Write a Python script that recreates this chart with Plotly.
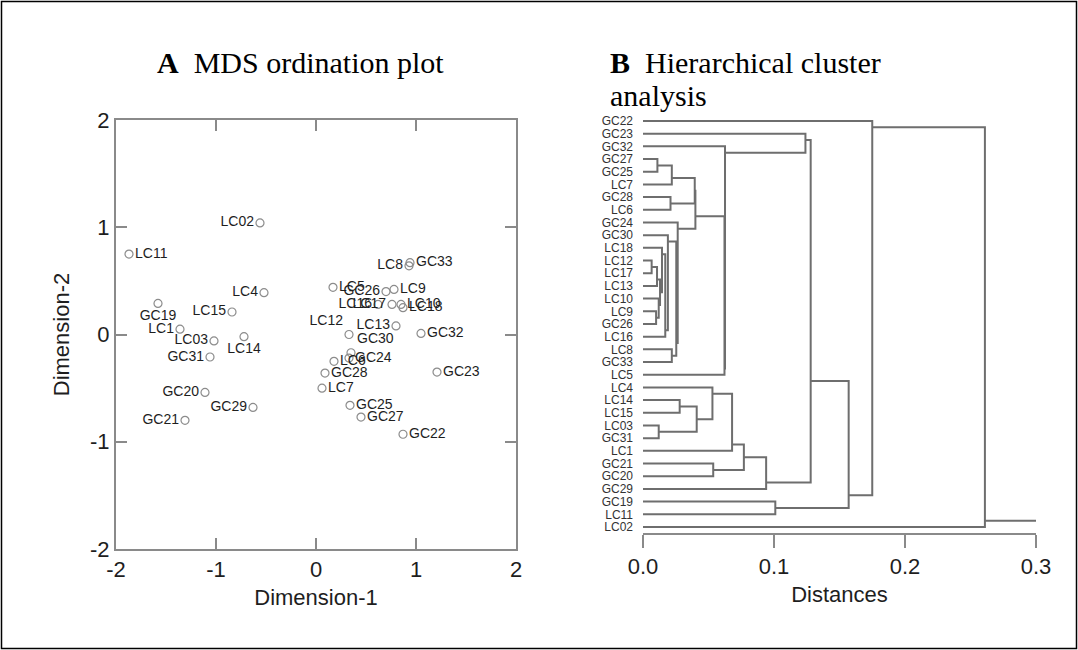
import plotly.graph_objects as go

# ---------------- MDS data ----------------
mds_names = ["LC02", "LC11", "LC4", "GC19", "LC15", "LC1", "LC03", "LC14", "GC31", "GC20",
             "GC29", "GC21", "LC5", "GC26", "LC9", "LC16", "LC17", "LC10", "LC18", "LC13",
             "LC12", "LC8", "GC33", "GC32", "GC30", "GC24", "LC6", "GC28", "LC7", "GC25",
             "GC27", "GC23", "GC22"]
mds_dim1 = [-0.56, -1.87, -0.52, -1.58, -0.84, -1.36, -1.02, -0.72, -1.06, -1.11,
            -0.63, -1.31, 0.17, 0.70, 0.78, 0.62, 0.76, 0.85, 0.87, 0.80,
            0.33, 0.93, 0.94, 1.05, 0.35, 0.33, 0.18, 0.09, 0.06, 0.34,
            0.45, 1.21, 0.87]
mds_dim2 = [1.04, 0.75, 0.39, 0.29, 0.21, 0.05, -0.06, -0.02, -0.21, -0.54,
            -0.68, -0.80, 0.44, 0.40, 0.42, 0.28, 0.28, 0.28, 0.25, 0.08,
            0.00, 0.64, 0.67, 0.01, -0.17, -0.22, -0.25, -0.36, -0.50, -0.66,
            -0.77, -0.35, -0.93]
dim_ticks = [-2, -1, 0, 1, 2]
dim_ticktext = ["-2", "-1", "0", "1", "2"]

# label placement (style)
label_pos = {"LC11": "middle right", "GC19": "bottom center", "LC14": "bottom center",
             "LC5": "middle right", "LC9": "middle right", "LC10": "middle right",
             "LC18": "middle right", "LC12": "top left", "GC33": "middle right",
             "GC32": "middle right", "GC30": "top right", "GC24": "middle right",
             "LC6": "middle right", "GC28": "middle right", "LC7": "middle right",
             "GC25": "middle right", "GC27": "middle right", "GC23": "middle right",
             "GC22": "middle right"}

# ---------------- Dendrogram data ----------------
leaf_order = ["GC22", "GC23", "GC32", "GC27", "GC25", "LC7", "GC28", "LC6", "GC24", "GC30",
              "LC18", "LC12", "LC17", "LC13", "LC10", "LC9", "GC26", "LC16", "LC8", "GC33",
              "LC5", "LC4", "LC14", "LC15", "LC03", "GC31", "LC1", "GC21", "GC20", "GC29",
              "GC19", "LC11", "LC02"]
# merges: (child A, child B, distance); integers refer to earlier merges
merges = [
    ("LC14", "LC15", 0.028),   # 0
    ("LC03", "GC31", 0.012),   # 1
    (0, 1, 0.041),             # 2
    ("LC4", 2, 0.053),         # 3
    (3, "LC1", 0.068),         # 4
    ("GC21", "GC20", 0.0536),  # 5
    (4, 5, 0.077),             # 6
    (6, "GC29", 0.094),        # 7
    ("GC19", "LC11", 0.101),   # 8
    ("LC12", "LC17", 0.0066),  # 9
    (9, "LC13", 0.0107),       # 10
    ("LC9", "GC26", 0.010),    # 11
    ("LC10", 11, 0.012),       # 12
    (10, 12, 0.013),           # 13
    ("LC18", 13, 0.0145),      # 14
    (14, "LC16", 0.017),       # 15
    ("GC30", 15, 0.019),       # 16
    ("LC8", "GC33", 0.022),    # 17
    (16, 17, 0.0254),          # 18
    ("GC24", 18, 0.0265),      # 19
    ("GC27", "GC25", 0.011),   # 20
    (20, "LC7", 0.022),        # 21
    ("GC28", "LC6", 0.021),    # 22
    (21, 22, 0.0395),          # 23
    (23, 19, 0.040),           # 24
    (24, "LC5", 0.0622),       # 25
    ("GC32", 25, 0.0626),      # 26
    ("GC23", 26, 0.124),       # 27
    (27, 7, 0.128),            # 28
    (28, 8, 0.157),            # 29
    ("GC22", 29, 0.175),       # 30
    (30, "LC02", 0.261),       # 31
]
dist_ticks = [0.0, 0.1, 0.2, 0.3]
dist_ticktext = ["0.0", "0.1", "0.2", "0.3"]

# ---------------- geometry helpers ----------------
W, H = 1078, 650
def fx(px):
    return px / W
def fy(px):
    return 1 - px / H

LINE = "#6e6e6e"
AXC = "#8a8a8a"
TXT = "#1e1e1e"
SANS = "Liberation Sans, Arial, sans-serif"
SERIF = "Liberation Serif, Times New Roman, serif"

fig = go.Figure()

positions = [label_pos.get(n, "middle left") for n in mds_names]
fig.add_trace(go.Scatter(
    x=mds_dim1, y=mds_dim2, mode="markers+text", text=mds_names,
    textposition=positions,
    textfont=dict(family=SANS, size=14, color=TXT),
    marker=dict(symbol="circle-open", size=8, color="#8c8c8c", line=dict(width=1.2)),
    xaxis="x", yaxis="y", showlegend=False, hoverinfo="skip", cliponaxis=False))

row = {n: i for i, n in enumerate(leaf_order)}
info = []

def child(c):
    if isinstance(c, str):
        r = row[c]
        return r, r, r, 0.0
    return info[c]

xs, ys = [], []
for a, b, h in merges:
    fa, la, ya, ha = child(a)
    fb, lb, yb, hb = child(b)
    out = (la + fb) / 2.0
    xs += [ha, h, h, hb, None]
    ys += [ya, ya, yb, yb, None]
    info.append((fa, lb, out, h))
root = info[-1]
xs += [root[3], dist_ticks[-1], None]
ys += [root[2], root[2], None]

fig.add_trace(go.Scatter(x=xs, y=ys, mode="lines", line=dict(color=LINE, width=2),
                         xaxis="x2", yaxis="y2", showlegend=False, hoverinfo="skip",
                         cliponaxis=False))

rp = 12.6875
y2_top_px, y2_bot_px = 115, 533
r_top = (y2_top_px - 121) / rp
r_bot = (y2_bot_px - 121) / rp

common_font = dict(family=SANS, size=22, color=TXT)
fig.update_layout(
    template="none",
    width=W, height=H, margin=dict(l=0, r=0, t=0, b=0, pad=0, autoexpand=False),
    paper_bgcolor="white", plot_bgcolor="white",
    xaxis=dict(domain=[fx(116), fx(516)], range=[-2, 2], tickvals=dim_ticks, ticktext=dim_ticktext,
               showline=True, linecolor=AXC, linewidth=2, mirror="ticks",
               ticks="inside", ticklen=11, tickwidth=2, tickcolor=AXC,
               showgrid=False, zeroline=False, automargin=False,
               tickfont=common_font,
               title=dict(text="Dimension-1", font=common_font, standoff=8)),
    yaxis=dict(domain=[fy(549), fy(120)], range=[-2, 2], tickvals=dim_ticks, ticktext=dim_ticktext,
               showline=True, linecolor=AXC, linewidth=2, mirror="ticks",
               ticks="inside", ticklen=11, tickwidth=2, tickcolor=AXC,
               showgrid=False, zeroline=False, automargin=False,
               tickfont=common_font,
               title=dict(text="Dimension-2", font=common_font, standoff=14)),
    xaxis2=dict(domain=[fx(643), fx(1036)], range=[0, 0.3], tickvals=dist_ticks,
                ticktext=dist_ticktext, anchor="y2",
                showline=True, linecolor=AXC, linewidth=2,
                ticks="outside", ticklen=13, tickwidth=2, tickcolor=AXC,
                showgrid=False, zeroline=False, automargin=False,
                tickfont=common_font,
                title=dict(text="Distances", font=common_font, standoff=8)),
    yaxis2=dict(domain=[fy(y2_bot_px), fy(y2_top_px)], range=[r_bot, r_top], anchor="x2",
                tickvals=list(range(len(leaf_order))), ticktext=leaf_order,
                showline=False, showgrid=False, zeroline=False, ticks="",
                ticklabelstandoff=9, automargin=False,
                tickfont=dict(family=SANS, size=12, color="#333333")),
)

fig.add_annotation(xref="paper", yref="paper", x=fx(300), y=fy(63), xanchor="center", yanchor="middle",
                   text="<b>A</b>  MDS ordination plot", showarrow=False,
                   font=dict(family=SERIF, size=30, color="black"))
fig.add_annotation(xref="paper", yref="paper", x=fx(608), y=fy(63), xanchor="left", yanchor="middle",
                   text="<b>B</b>  Hierarchical cluster", showarrow=False, align="left",
                   font=dict(family=SERIF, size=30, color="black"))
fig.add_annotation(xref="paper", yref="paper", x=fx(608), y=fy(96), xanchor="left", yanchor="middle",
                   text="analysis", showarrow=False, align="left",
                   font=dict(family=SERIF, size=30, color="black"))
fig.add_shape(type="rect", xref="paper", yref="paper", x0=1.5 / W, y0=1.5 / H, x1=1 - 1.5 / W, y1=1 - 1.5 / H,
              line=dict(color="black", width=1.5))

fig.write_html("out.html", config={"displayModeBar": False},
               post_script="document.body.style.margin='0';document.body.style.overflow='hidden';")
